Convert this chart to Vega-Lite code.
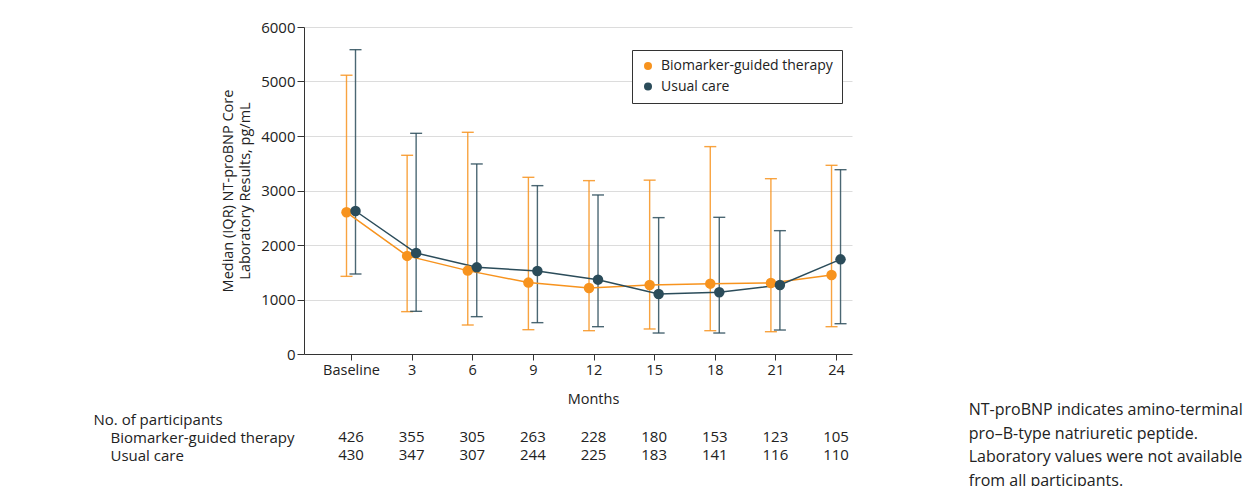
{
  "$schema": "https://vega.github.io/schema/vega-lite/v6.json",
  "padding": {"left": 93, "top": 20, "right": 0, "bottom": 0},
  "background": "white",
  "config": {
    "font": "Open Sans",
    "view": {"stroke": null},
    "axis": {
      "labelFont": "Open Sans", "labelFontSize": 14.5, "labelColor": "#222",
      "titleFont": "Open Sans", "titleFontSize": 14.5, "titleFontWeight": "normal", "titleColor": "#222",
      "domainColor": "#333", "tickColor": "#333", "gridColor": "#dcdcdc"
    }
  },
  "datasets": {
    "iqr": [
      {"month": 0, "group": "Biomarker-guided therapy", "median": 2600, "q1": 1425, "q3": 5115},
      {"month": 3, "group": "Biomarker-guided therapy", "median": 1800, "q1": 777, "q3": 3646},
      {"month": 6, "group": "Biomarker-guided therapy", "median": 1530, "q1": 532, "q3": 4068},
      {"month": 9, "group": "Biomarker-guided therapy", "median": 1310, "q1": 446, "q3": 3242},
      {"month": 12, "group": "Biomarker-guided therapy", "median": 1212, "q1": 428, "q3": 3181},
      {"month": 15, "group": "Biomarker-guided therapy", "median": 1266, "q1": 459, "q3": 3190},
      {"month": 18, "group": "Biomarker-guided therapy", "median": 1291, "q1": 428, "q3": 3805},
      {"month": 21, "group": "Biomarker-guided therapy", "median": 1303, "q1": 409, "q3": 3217},
      {"month": 24, "group": "Biomarker-guided therapy", "median": 1450, "q1": 501, "q3": 3462},
      {"month": 0, "group": "Usual care", "median": 2624, "q1": 1468, "q3": 5584},
      {"month": 3, "group": "Usual care", "median": 1853, "q1": 783, "q3": 4049},
      {"month": 6, "group": "Usual care", "median": 1590, "q1": 685, "q3": 3487},
      {"month": 9, "group": "Usual care", "median": 1523, "q1": 575, "q3": 3089},
      {"month": 12, "group": "Usual care", "median": 1364, "q1": 501, "q3": 2918},
      {"month": 15, "group": "Usual care", "median": 1101, "q1": 385, "q3": 2502},
      {"month": 18, "group": "Usual care", "median": 1132, "q1": 385, "q3": 2508},
      {"month": 21, "group": "Usual care", "median": 1266, "q1": 440, "q3": 2263},
      {"month": 24, "group": "Usual care", "median": 1737, "q1": 556, "q3": 3382}
    ],
    "counts": [
      {"month": 0, "group": "Biomarker-guided therapy", "n": 426},
      {"month": 3, "group": "Biomarker-guided therapy", "n": 355},
      {"month": 6, "group": "Biomarker-guided therapy", "n": 305},
      {"month": 9, "group": "Biomarker-guided therapy", "n": 263},
      {"month": 12, "group": "Biomarker-guided therapy", "n": 228},
      {"month": 15, "group": "Biomarker-guided therapy", "n": 180},
      {"month": 18, "group": "Biomarker-guided therapy", "n": 153},
      {"month": 21, "group": "Biomarker-guided therapy", "n": 123},
      {"month": 24, "group": "Biomarker-guided therapy", "n": 105},
      {"month": 0, "group": "Usual care", "n": 430},
      {"month": 3, "group": "Usual care", "n": 347},
      {"month": 6, "group": "Usual care", "n": 307},
      {"month": 9, "group": "Usual care", "n": 244},
      {"month": 12, "group": "Usual care", "n": 225},
      {"month": 15, "group": "Usual care", "n": 183},
      {"month": 18, "group": "Usual care", "n": 141},
      {"month": 21, "group": "Usual care", "n": 116},
      {"month": 24, "group": "Usual care", "n": 110}
    ]
  },
  "spacing": 116,
  "resolve": {
    "scale": {"color": "independent", "stroke": "independent", "fill": "independent"},
    "legend": {"color": "independent", "stroke": "independent", "fill": "independent"}
  },
  "hconcat": [
    {
      "spacing": 4,
      "resolve": {
        "scale": {"color": "independent", "stroke": "independent", "fill": "independent"},
        "legend": {"color": "independent", "stroke": "independent", "fill": "independent"}
      },
      "vconcat": [
        {
          "width": 548,
          "height": 327,
          "data": {"name": "iqr"},
          "encoding": {
            "x": {
              "field": "month", "type": "quantitative",
              "scale": {"domain": [-2.326, 24.79], "nice": false, "zero": false},
              "axis": {
                "values": [0, 3, 6, 9, 12, 15, 18, 21, 24],
                "labelExpr": "datum.value == 0 ? 'Baseline' : datum.label",
                "grid": false, "tickSize": 6, "labelPadding": 3,
                "title": "Months", "titlePadding": 16, "titleX": 289
              }
            }
          },
          "layer": [
            {
              "mark": {"type": "rule", "strokeWidth": 1.4, "opacity": 0.85, "xOffset": {"expr": "datum.group == 'Usual care' ? 4.5 : -4.5"}},
              "encoding": {
                "y": {
                  "field": "q1", "type": "quantitative",
                  "scale": {"domain": [0, 6000], "nice": false},
                  "axis": {
                    "values": [0, 1000, 2000, 3000, 4000, 5000, 6000], "format": "d",
                    "grid": true, "tickSize": 7, "labelPadding": 2, "labelFontSize": 15,
                    "title": ["Median (IQR) NT-proBNP Core", "Laboratory Results, pg/mL"],
                    "titlePadding": 8, "titleLineHeight": 17
                  }
                },
                "y2": {"field": "q3"},
                "stroke": {
                  "field": "group", "type": "nominal",
                  "scale": {"range": ["#F7931E", "#2B4C5A"]},
                  "legend": null
                }
              }
            },
            {
              "mark": {"type": "tick", "orient": "horizontal", "size": 12, "thickness": 1.4, "opacity": 0.85, "xOffset": {"expr": "datum.group == 'Usual care' ? 4.5 : -4.5"}},
              "encoding": {
                "y": {
                  "field": "q1", "type": "quantitative",
                  "axis": {
                    "values": [0, 1000, 2000, 3000, 4000, 5000, 6000], "format": "d",
                    "grid": true, "tickSize": 7, "labelPadding": 2, "labelFontSize": 15,
                    "title": ["Median (IQR) NT-proBNP Core", "Laboratory Results, pg/mL"],
                    "titlePadding": 8, "titleLineHeight": 17
                  }
                },
                "fill": {
                  "field": "group", "type": "nominal",
                  "scale": {"range": ["#F7931E", "#2B4C5A"]},
                  "legend": null
                }
              }
            },
            {
              "mark": {"type": "tick", "orient": "horizontal", "size": 12, "thickness": 1.4, "opacity": 0.85, "xOffset": {"expr": "datum.group == 'Usual care' ? 4.5 : -4.5"}},
              "encoding": {
                "y": {
                  "field": "q3", "type": "quantitative",
                  "axis": {
                    "values": [0, 1000, 2000, 3000, 4000, 5000, 6000], "format": "d",
                    "grid": true, "tickSize": 7, "labelPadding": 2, "labelFontSize": 15,
                    "title": ["Median (IQR) NT-proBNP Core", "Laboratory Results, pg/mL"],
                    "titlePadding": 8, "titleLineHeight": 17
                  }
                },
                "fill": {
                  "field": "group", "type": "nominal",
                  "scale": {"range": ["#F7931E", "#2B4C5A"]},
                  "legend": null
                }
              }
            },
            {
              "mark": {"type": "line", "strokeWidth": 1.5, "xOffset": {"expr": "datum.group == 'Usual care' ? 4.5 : -4.5"}},
              "encoding": {
                "y": {
                  "field": "median", "type": "quantitative",
                  "axis": {
                    "values": [0, 1000, 2000, 3000, 4000, 5000, 6000], "format": "d",
                    "grid": true, "tickSize": 7, "labelPadding": 2, "labelFontSize": 15,
                    "title": ["Median (IQR) NT-proBNP Core", "Laboratory Results, pg/mL"],
                    "titlePadding": 8, "titleLineHeight": 17
                  }
                },
                "stroke": {
                  "field": "group", "type": "nominal",
                  "scale": {"range": ["#F7931E", "#2B4C5A"]},
                  "legend": null
                }
              }
            },
            {
              "mark": {"type": "circle", "size": 110, "opacity": 1, "xOffset": {"expr": "datum.group == 'Usual care' ? 4.5 : -4.5"}},
              "encoding": {
                "y": {
                  "field": "median", "type": "quantitative",
                  "axis": {
                    "values": [0, 1000, 2000, 3000, 4000, 5000, 6000], "format": "d",
                    "grid": true, "tickSize": 7, "labelPadding": 2, "labelFontSize": 15,
                    "title": ["Median (IQR) NT-proBNP Core", "Laboratory Results, pg/mL"],
                    "titlePadding": 8, "titleLineHeight": 17
                  }
                },
                "color": {
                  "field": "group", "type": "nominal",
                  "scale": {"domain": ["Biomarker-guided therapy", "Usual care"], "range": ["#F7931E", "#2B4C5A"]},
                  "legend": {
                    "orient": "none", "legendX": 328, "legendY": 23, "title": null,
                    "fillColor": "white", "strokeColor": "#333", "padding": 9,
                    "labelFont": "Open Sans", "labelFontSize": 14, "labelColor": "#222", "labelLimit": 300,
                    "symbolType": "circle", "symbolSize": 64, "symbolStrokeWidth": 0,
                    "rowPadding": 6.5, "labelOffset": 6
                  }
                }
              }
            }
          ]
        },
        {
          "width": 548,
          "height": 54,
          "data": {"name": "counts"},
          "mark": {"type": "text", "fontSize": 15, "color": "#222", "font": "Open Sans"},
          "encoding": {
            "x": {
              "field": "month", "type": "quantitative",
              "scale": {"domain": [-2.326, 24.79], "nice": false, "zero": false},
              "axis": null
            },
            "y": {
              "field": "group", "type": "nominal",
              "scale": {"domain": ["No. of participants", "Biomarker-guided therapy", "Usual care"]},
              "axis": {
                "title": null, "domain": false, "ticks": false, "grid": false,
                "labelAlign": "left", "labelFontSize": 15, "labelLimit": 300,
                "labelPadding": {"condition": {"test": "datum.value == 'No. of participants'", "value": 211}, "value": 194}
              }
            },
            "text": {"field": "n", "type": "quantitative"}
          }
        }
      ]
    },
    {
      "width": 1,
      "height": 375,
      "data": {"values": [{"k": 0}]},
      "mark": {"type": "point", "opacity": 0},
      "title": {
        "text": ["NT-proBNP indicates amino-terminal", "pro–B-type natriuretic peptide.", "Laboratory values were not available", "from all participants."],
        "orient": "bottom", "anchor": "start", "align": "left", "baseline": "top",
        "fontSize": 16, "fontWeight": "normal", "font": "Open Sans", "lineHeight": 23.5, "color": "#222", "offset": 0
      }
    }
  ]
}
